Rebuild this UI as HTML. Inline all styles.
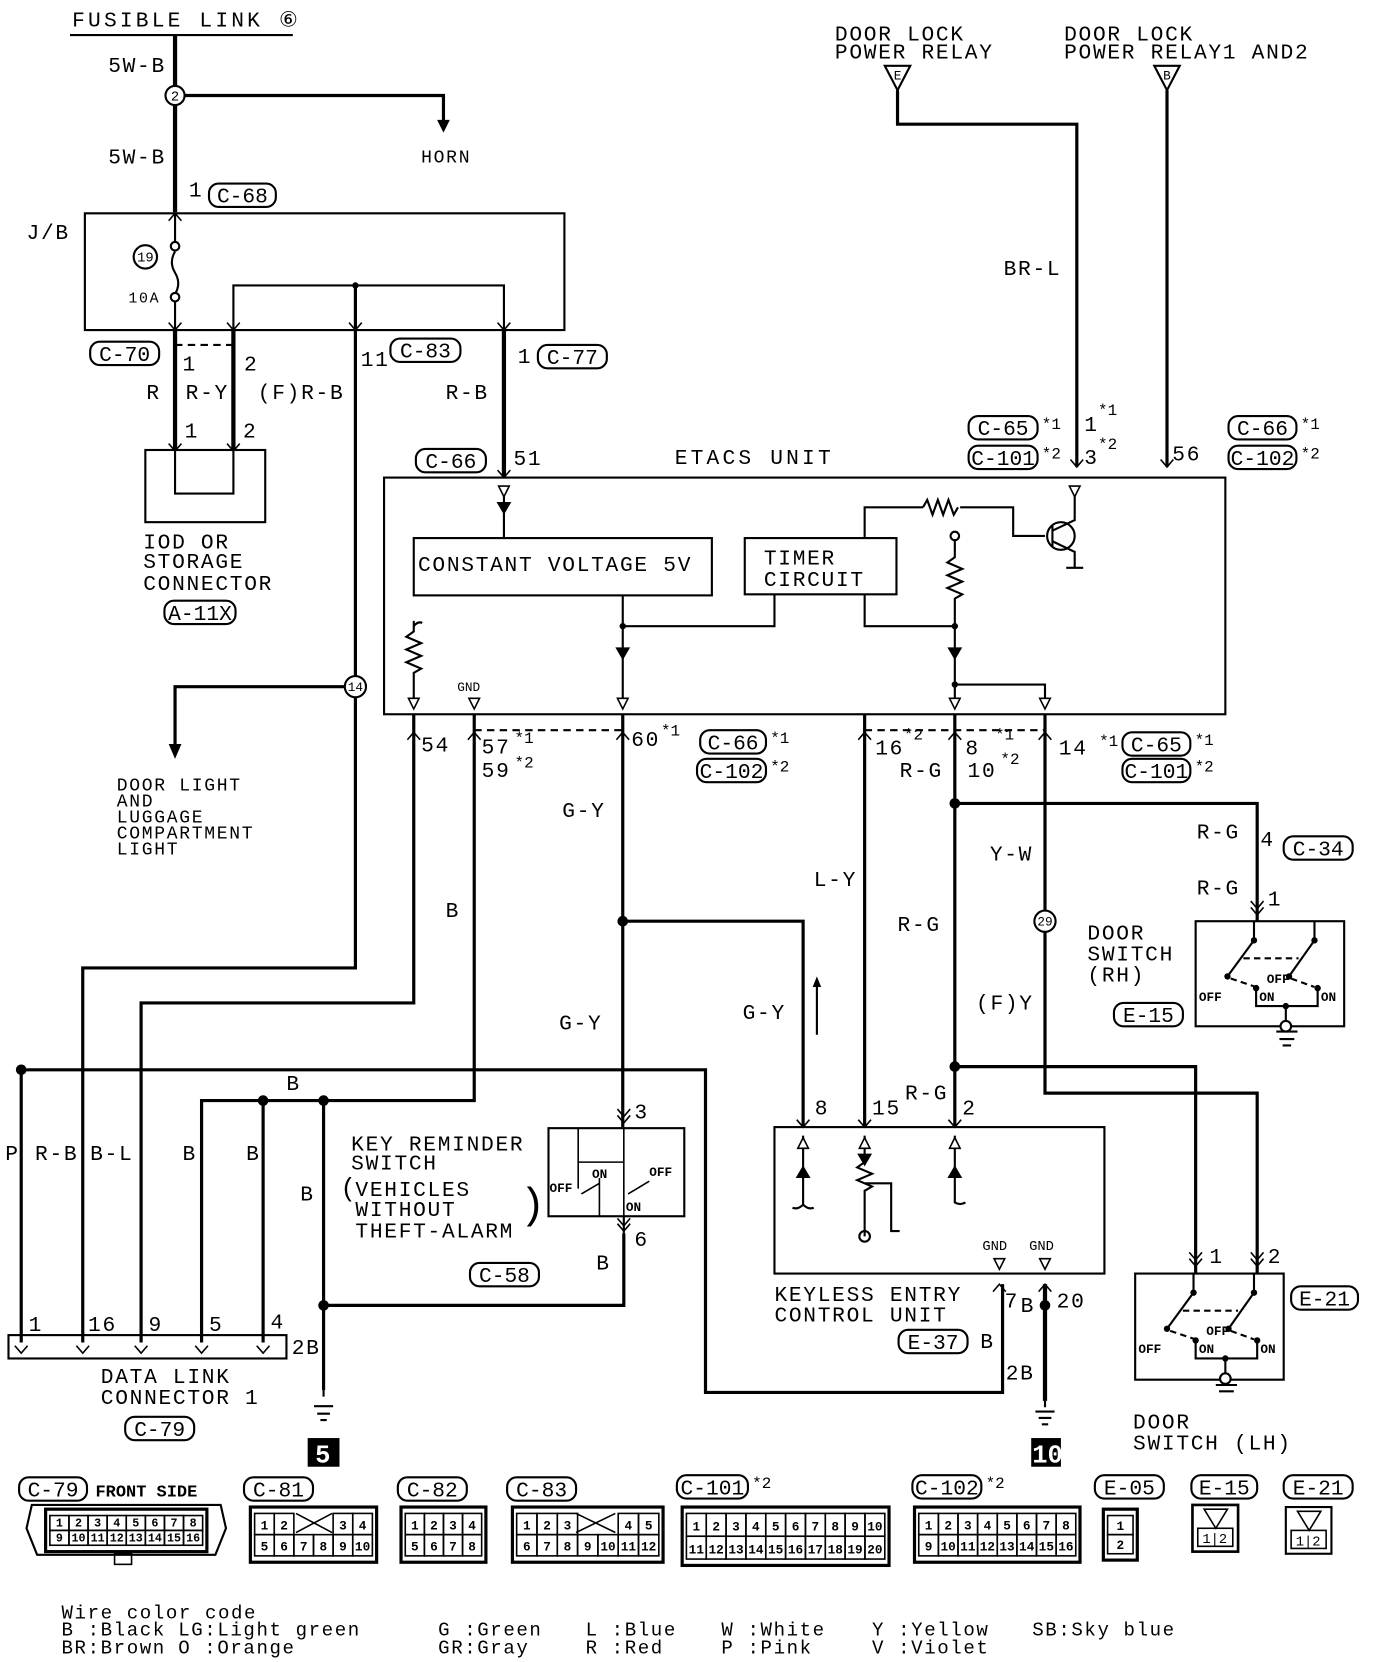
<!DOCTYPE html>
<html><head><meta charset="utf-8"><style>
html,body{margin:0;padding:0;background:#fff;}
svg{display:block;}
text{font-family:"Liberation Mono","DejaVu Sans Mono",monospace;fill:#000;}
.w text{letter-spacing:1.6px;}
.lg text{letter-spacing:1.5px;}
</style></head><body>
<svg id="s" width="1376" height="1662" viewBox="0 0 1297 1566" preserveAspectRatio="none" xmlns="http://www.w3.org/2000/svg">
<g fill="none" stroke="#000" stroke-width="2">
<line x1="66" y1="33" x2="276" y2="33"/>
<path d="M165 33 V200" stroke-width="4"/>
<path d="M165 90 H418 V120" stroke-width="3"/>
<rect x="80" y="201" width="452" height="110"/>
<path d="M165 201 V232 M165 280 V330"/>
<path d="M165 237 q-6 10 0 20 q6 10 0 20"/>
<path d="M220 330 V269 H475 V325"/>
<path d="M335 269 V912 H78 V1265" stroke-width="3"/>
<path d="M165 325 H220" stroke-dasharray="7,5"/>
<path d="M165 311 V425 M220 311 V425" stroke-width="4"/>
<path d="M475 311 V450" stroke-width="4"/>
<rect x="137" y="424" width="113" height="68"/>
<path d="M165 424 V465 H220 V424"/>
<path d="M335 647 H165 V705" stroke-width="3"/>
<path d="M846 85 V117 H1015 V440" stroke-width="3"/>
<path d="M1100 85 V440" stroke-width="3"/>
<rect x="362" y="450" width="793" height="223"/>
<rect x="390" y="507" width="281" height="54"/>
<rect x="702" y="507" width="143" height="53"/>
<path d="M475 458 V507"/>
<path d="M587 561 V660 M730 560 V590 H587"/>
<path d="M815 507 V478 H870 M905 478 H955 V505 H985"/>
<path d="M870 478 l4 -7 l5 14 l5 -14 l5 14 l5 -14 l5 14 l4 -7"/>
<circle cx="1000" cy="505" r="13"/>
<path d="M992 495 V515 M992 500 L1013 490 V462 M992 510 L1013 520 V535 M1005 535 h16"/>
<path d="M900 508 V525 l-7 5 l14 6 l-14 6 l14 6 l-14 6 l14 6 l-7 4 V660 M900 645 H985 V660"/>
<path d="M815 560 V590 H900"/>
<circle cx="900" cy="505" r="4"/>
<path d="M390 585 V595 l-7 5 l14 6 l-14 6 l14 6 l-14 6 l14 6 l-7 4 V660 M390 590 q4 -5 8 -3"/>
<path d="M447 688 H587 M815 688 H985" stroke-dasharray="7,5"/>
<path d="M390 673 V945 H133 V1265" stroke-width="3"/>
<path d="M447 673 V1037 H190 V1265" stroke-width="3"/>
<path d="M248 1037 V1265" stroke-width="3"/>
<path d="M20 1008 H665 V1312 H945 V1210" stroke-width="3"/>
<path d="M20 1008 V1265" stroke-width="3"/>
<path d="M305 1037 V1310 M305 1230 H588 V1162" stroke-width="3"/>
<path d="M587 673 V1062 M587 868 H757 V1062" stroke-width="3"/>
<path d="M815 673 V1062 M900 673 V1062" stroke-width="3"/>
<path d="M900 757 H1185 V868" stroke-width="3"/>
<path d="M985 673 V1030 H1185 V1200 M900 1005 H1127 V1200" stroke-width="3"/>
<path d="M985 1210 V1320" stroke-width="4"/>
<path d="M770 975 V925"/>
<rect x="517" y="1063" width="128" height="83"/>
<path d="M588 1146 V1162"/>
<rect x="730" y="1062" width="311" height="138"/>
<path d="M757 1070 V1135 q-5 5 -10 3 M757 1135 q5 5 10 3"/>
<path d="M815 1070 V1095 l-7 5 l14 6 l-14 6 l14 6 l-7 4 V1165 M815 1115 H840 V1160 h8"/>
<circle cx="815" cy="1165" r="5"/>
<path d="M900 1070 V1133 q5 3 10 0"/>
<rect x="8" y="1258" width="262" height="22"/>
<rect x="1127" y="868" width="140" height="99"/>
<rect x="1070" y="1200" width="140" height="100"/>
<path d="M305 1310 V1316 M296 1325 h18 M299 1332 h12 M302 1338 h6"/>
<path d="M985 1320 V1326 M976 1330 h18 M979 1336 h12 M982 1342 h6"/>
</g>
<g id="dyn"></g>
<g fill="#000">
<circle cx="335" cy="269" r="3"/><circle cx="587" cy="868" r="5"/><circle cx="900" cy="757" r="5"/><circle cx="900" cy="1005" r="5"/>
<circle cx="20" cy="1008" r="5"/><circle cx="248" cy="1037" r="5"/><circle cx="305" cy="1037" r="5"/><circle cx="305" cy="1230" r="5"/><circle cx="985" cy="1230" r="5"/>
<circle cx="587" cy="590" r="3"/><circle cx="900" cy="590" r="3"/><circle cx="900" cy="645" r="3"/>
<path d="M418 125 l-6 -12 h12 z"/><path d="M165 715 l-6 -14 h12 z"/>
<path d="M468 473 h14 l-7 12 z"/><path d="M580 610 h14 l-7 12 z"/><path d="M893 610 h14 l-7 12 z"/>
<path d="M750 1110 h14 l-7 -12 z"/><path d="M808 1087 h14 l-7 12 z"/><path d="M893 1110 h14 l-7 -12 z"/>
<path d="M770 920 l-4 10 h8 z"/>
<rect x="290" y="1355" width="30" height="27"/><rect x="972" y="1355" width="28" height="27"/>
</g>
<g font-size="20" class="w">
<text x="68" y="25" style="letter-spacing:3px">FUSIBLE LINK ⑥</text>
<text x="102" y="68">5W-B</text><text x="102" y="154">5W-B</text>
<text x="397" y="153" font-size="17">HORN</text>
<text x="178" y="185">1</text>
<text x="25" y="225">J/B</text>
<text x="121" y="285" font-size="14">10A</text>
<text x="172" y="349">1</text><text x="230" y="349">2</text><text x="340" y="345">11</text><text x="488" y="342">1</text>
<text x="138" y="376">R</text><text x="175" y="376">R-Y</text><text x="243" y="376">(F)R-B</text><text x="420" y="376">R-B</text>
<text x="174" y="412">1</text><text x="229" y="412">2</text>
<text x="135" y="517">IOD OR</text><text x="135" y="535">STORAGE</text><text x="135" y="556">CONNECTOR</text>
<text x="110" y="745" font-size="17">DOOR LIGHT</text><text x="110" y="760" font-size="17">AND</text><text x="110" y="775" font-size="17">LUGGAGE</text><text x="110" y="790" font-size="17">COMPARTMENT</text><text x="110" y="805" font-size="17">LIGHT</text>
<text x="787" y="38">DOOR LOCK</text><text x="787" y="55">POWER RELAY</text>
<text x="1003" y="38">DOOR LOCK</text><text x="1003" y="55">POWER RELAY1 AND2</text>
<text x="946" y="259">BR-L</text>
<text x="484" y="438">51</text><text x="636" y="437" style="letter-spacing:3px">ETACS UNIT</text>
<text x="1022" y="406">1</text><text x="1022" y="437">3</text><text x="1105" y="434">56</text>
<text x="394" y="538">CONSTANT VOLTAGE 5V</text>
<text x="720" y="532">TIMER</text><text x="720" y="552">CIRCUIT</text>
<text x="431" y="651" font-size="12" style="letter-spacing:0">GND</text>
<text x="397" y="708">54</text><text x="454" y="710">57</text><text x="454" y="732">59</text><text x="595" y="703">60</text>
<text x="825" y="711">16</text><text x="910" y="711">8</text><text x="912" y="732">10</text><text x="998" y="711">14</text>
<text x="848" y="732">R-G</text>
<text x="530" y="770">G-Y</text><text x="420" y="864">B</text><text x="527" y="970">G-Y</text><text x="700" y="960">G-Y</text>
<text x="767" y="835">L-Y</text><text x="846" y="877">R-G</text><text x="933" y="811">Y-W</text><text x="920" y="951">(F)Y</text>
<text x="1128" y="790">R-G</text><text x="1188" y="797">4</text><text x="1128" y="843">R-G</text><text x="1195" y="853">1</text>
<text x="1025" y="885">DOOR</text><text x="1025" y="905">SWITCH</text><text x="1025" y="925">(RH)</text>
<text x="853" y="1036">R-G</text><text x="768" y="1050">8</text><text x="822" y="1050">15</text><text x="907" y="1050">2</text>
<text x="598" y="1054">3</text><text x="598" y="1174">6</text><text x="562" y="1196">B</text>
<text x="331" y="1084">KEY REMINDER</text><text x="331" y="1102">SWITCH</text>
<text x="321" y="1127" font-size="24">(</text><text x="335" y="1127">VEHICLES</text><text x="335" y="1146">WITHOUT</text><text x="335" y="1166">THEFT-ALARM</text><text x="490" y="1147" font-size="40">)</text>
<text x="270" y="1027">B</text><text x="283" y="1131">B</text>
<text x="5" y="1093">P</text><text x="33" y="1093">R-B</text><text x="85" y="1093">B-L</text><text x="172" y="1093">B</text><text x="232" y="1093">B</text>
<text x="27" y="1254">1</text><text x="83" y="1254">16</text><text x="140" y="1254">9</text><text x="197" y="1254">5</text><text x="255" y="1252">4</text><text x="275" y="1276">2B</text>
<text x="95" y="1303">DATA LINK</text><text x="95" y="1323">CONNECTOR 1</text>
<text x="926" y="1178" font-size="13" style="letter-spacing:0">GND</text><text x="970" y="1178" font-size="13" style="letter-spacing:0">GND</text>
<text x="947" y="1232">7</text><text x="962" y="1236">B</text><text x="996" y="1232">20</text>
<text x="730" y="1226">KEYLESS ENTRY</text><text x="730" y="1245">CONTROL UNIT</text>
<text x="924" y="1270">B</text><text x="948" y="1300">2B</text>
<text x="1140" y="1190">1</text><text x="1195" y="1190">2</text>
<text x="1068" y="1346">DOOR</text><text x="1068" y="1366">SWITCH (LH)</text>
<text x="297" y="1378" style="fill:#fff" font-weight="bold" font-size="24">5</text>
<text x="973" y="1378" style="fill:#fff;letter-spacing:0" font-weight="bold" font-size="24">10</text>
<text x="90" y="1410" font-size="16" font-weight="bold" style="letter-spacing:0">FRONT SIDE</text>
</g>
<g font-size="18" class="lg">
<text x="58" y="1525">Wire color code</text>
<text x="58" y="1541">B :Black</text><text x="168" y="1541">LG:Light green</text><text x="413" y="1541">G :Green</text><text x="552" y="1541">L :Blue</text><text x="680" y="1541">W :White</text><text x="822" y="1541">Y :Yellow</text><text x="973" y="1541">SB:Sky blue</text>
<text x="58" y="1558">BR:Brown</text><text x="168" y="1558">O :Orange</text><text x="413" y="1558">GR:Gray</text><text x="552" y="1558">R :Red</text><text x="680" y="1558">P :Pink</text><text x="822" y="1558">V :Violet</text>
</g>
</svg>
<script>
var g=document.getElementById('dyn'),NS='http://www.w3.org/2000/svg';
function el(t,a,txt){var e=document.createElementNS(NS,t);for(var k in a)e.setAttribute(k,a[k]);if(txt!==undefined)e.textContent=txt;g.appendChild(e);return e;}
function lab(x,y,w,t,star){el('rect',{x:x,y:y,width:w,height:22,rx:9,fill:'none',stroke:'#000','stroke-width':2});el('text',{x:x+w/2,y:y+18,'text-anchor':'middle','font-size':20},t);if(star)el('text',{x:x+w+4,y:y+12,'font-size':15},star);}
function circ(x,y,r,t,fs){el('circle',{cx:x,cy:y,r:r,fill:'#fff',stroke:'#000','stroke-width':2});el('text',{x:x,y:y+fs*0.35,'text-anchor':'middle','font-size':fs},t);}
lab(197,173,63,'C-68');lab(85,322,65,'C-70');lab(368,319,66,'C-83');lab(507,325,65,'C-77');lab(155,566,67,'A-11X');
lab(392,423,66,'C-66');lab(913,392,65,'C-65','*1');lab(913,420,65,'C-101','*2');lab(1158,392,64,'C-66','*1');lab(1158,420,64,'C-102','*2');
lab(660,688,62,'C-66','*1');lab(657,715,65,'C-102','*2');lab(1058,690,64,'C-65','*1');lab(1058,715,64,'C-101','*2');
lab(1210,788,65,'C-34');lab(1050,945,65,'E-15');lab(443,1190,65,'C-58');lab(847,1253,65,'E-37');lab(1217,1212,63,'E-21');lab(118,1335,65,'C-79');
[[485,700,'*1'],[485,723,'*2'],[623,693,'*1'],[852,697,'*2'],[938,697,'*1'],[943,720,'*2'],[1036,703,'*1'],[1035,391,'*1'],[1035,423,'*2']].forEach(function(a){el('text',{x:a[0],y:a[1],'font-size':15},a[2]);});
circ(165,90,9,'2',13);circ(137,242,11,'19',13);circ(335,647,10,'14',12);circ(985,868,10,'29',12);
el('circle',{cx:165,cy:232,r:4,fill:'#fff',stroke:'#000','stroke-width':2});el('circle',{cx:165,cy:280,r:4,fill:'#fff',stroke:'#000','stroke-width':2});
[[846,'E'],[1100,'B']].forEach(function(a){el('path',{d:'M'+(a[0]-12)+' 62 h24 l-12 23 z',fill:'none',stroke:'#000','stroke-width':2});el('text',{x:a[0],y:75,'text-anchor':'middle','font-size':12},a[1]);});
function oa(x,y){el('path',{d:'M'+(x-5)+' '+(y-10)+' h10 l-5 10 z',fill:'#fff',stroke:'#000','stroke-width':1.5});}
[[475,468],[1013,468],[390,668],[447,668],[587,668],[900,668],[985,668],[942,1196],[985,1196]].forEach(function(a){oa(a[0],a[1]);});
function ua(x,y){el('path',{d:'M'+(x-5)+' '+(y+10)+' h10 l-5 -10 z',fill:'#fff',stroke:'#000','stroke-width':1.5});}
[[757,1072],[815,1072],[900,1072]].forEach(function(a){ua(a[0],a[1]);});
function v(x,y,up){var d=up?-7:7;el('path',{d:'M'+(x-6)+' '+(y-d)+' L'+x+' '+y+' L'+(x+6)+' '+(y-d),fill:'none',stroke:'#000','stroke-width':1.5});}
[[165,201,1],[165,311],[220,311],[335,311],[475,311],[165,425],[220,425],[475,450],[1015,440],[1100,440],[390,690,1],[447,690,1],[587,690,1],[815,690,1],[900,690,1],[985,690,1],[757,1062],[815,1062],[900,1062],[942,1210,1],[985,1210,1],[20,1275],[78,1275],[133,1275],[190,1275],[248,1275]].forEach(function(a){v(a[0],a[1],a[2]);});
[[588,1058],[1185,862],[1127,1193],[1185,1193]].forEach(function(a){v(a[0],a[1]);v(a[0],a[1]-6);});
v(588,1160);v(588,1155);
function ds(x,y){
el('path',{d:'M'+(x+55)+' '+y+' V'+(y+18)+' L'+(x+30)+' '+(y+52)+' M'+(x+112)+' '+y+' V'+(y+18)+' L'+(x+88)+' '+(y+52)+' M'+(x+57)+' '+(y+64)+' V'+(y+80)+' H'+(x+115)+' V'+(y+64)+' M'+(x+85)+' '+(y+80)+' V'+(y+95),fill:'none',stroke:'#000','stroke-width':2});
el('path',{d:'M'+(x+45)+' '+(y+35)+' H'+(x+97)+' M'+(x+33)+' '+(y+54)+' L'+(x+57)+' '+(y+62)+' M'+(x+90)+' '+(y+54)+' L'+(x+112)+' '+(y+62),fill:'none',stroke:'#000','stroke-width':2,'stroke-dasharray':'6,4'});
[[x+55,y+18],[x+112,y+18],[x+30,y+52],[x+88,y+52],[x+57,y+63],[x+115,y+63],[x+85,y+80]].forEach(function(p){el('circle',{cx:p[0],cy:p[1],r:3,fill:'#000'});});
el('circle',{cx:x+85,cy:y+99,r:5,fill:'#fff',stroke:'#000','stroke-width':2});
el('text',{x:x+3,y:y+75,'font-size':12,'font-weight':'bold'},'OFF');el('text',{x:x+67,y:y+58,'font-size':12,'font-weight':'bold'},'OFF');
el('text',{x:x+60,y:y+75,'font-size':12,'font-weight':'bold'},'ON');el('text',{x:x+118,y:y+75,'font-size':12,'font-weight':'bold'},'ON');}
ds(1127,868);ds(1070,1200);
el('path',{d:'M1203 972 h20 M1206 979 h14 M1209 985 h8 M1146 1305 h20 M1149 1311 h14',fill:'none',stroke:'#000','stroke-width':2});
el('path',{d:'M545 1063 V1120 M588 1063 V1146 M545 1095 H588 M548 1125 L565 1115 M592 1125 L612 1113 M565 1110 V1146',fill:'none',stroke:'#000','stroke-width':1.5});
el('text',{x:518,y:1123,'font-size':12,'font-weight':'bold'},'OFF');el('text',{x:558,y:1110,'font-size':12,'font-weight':'bold'},'ON');el('text',{x:612,y:1108,'font-size':12,'font-weight':'bold'},'OFF');el('text',{x:590,y:1141,'font-size':12,'font-weight':'bold'},'ON');
function grid(x,y,w,h,rows,cols,labels,fs){el('rect',{x:x,y:y,width:w,height:h,fill:'none',stroke:'#000','stroke-width':3});var cw=(w-8)/cols,ch=(h-12)/rows,i=0;for(var r=0;r<rows;r++)for(var c=0;c<cols;c++){var t=labels[i++];if(t==='')continue;var cx=x+4+c*cw,cy=y+6+r*ch;el('rect',{x:cx,y:cy,width:cw,height:ch,fill:'none',stroke:'#000','stroke-width':1.5});el('text',{x:cx+cw/2,y:cy+ch*0.75,'text-anchor':'middle','font-size':fs||13,'font-weight':'bold'},t);}}
function rng(a,b){var r=[];for(var i=a;i<=b;i++)r.push(''+i);return r;}
lab(18,1392,64,'C-79');lab(230,1392,65,'C-81');lab(375,1392,65,'C-82');lab(478,1392,65,'C-83');lab(638,1390,67,'C-101','*2');lab(860,1390,65,'C-102','*2');lab(1032,1390,65,'E-05');lab(1123,1390,62,'E-15');lab(1210,1390,65,'E-21');
el('path',{d:'M30 1418 H208 L213 1440 L203 1465 H35 L25 1440 Z',fill:'none',stroke:'#000','stroke-width':2});
grid(43,1422,152,40,2,8,rng(1,16),11);el('rect',{x:108,y:1464,width:16,height:10,fill:'none',stroke:'#000','stroke-width':1.5});
grid(236,1420,119,52,2,6,['1','2','','','3','4','5','6','7','8','9','10'],12);el('path',{d:'M279 1426 L313 1444 M313 1426 L279 1444',stroke:'#000','stroke-width':1.5});
grid(378,1420,80,52,2,4,rng(1,8),12);
grid(483,1420,142,52,2,7,['1','2','3','','','4','5','6','7','8','9','10','11','12'],12);el('path',{d:'M543 1426 L580 1444 M580 1426 L543 1444',stroke:'#000','stroke-width':1.5});
grid(643,1420,195,55,2,10,rng(1,20),12);
grid(862,1420,156,52,2,8,rng(1,16),12);
grid(1040,1422,32,48,2,1,['1','2'],12);
el('rect',{x:1124,y:1418,width:43,height:44,fill:'none',stroke:'#000','stroke-width':2.5});el('path',{d:'M1135 1422 h22 l-11 18 z',fill:'none',stroke:'#000','stroke-width':1.5});el('rect',{x:1129,y:1440,width:33,height:17,fill:'none',stroke:'#000','stroke-width':1.5});el('text',{x:1145,y:1454,'text-anchor':'middle','font-size':13},'1|2');
el('rect',{x:1212,y:1420,width:43,height:44,fill:'none',stroke:'#000','stroke-width':2});el('path',{d:'M1223 1424 h22 l-11 18 z',fill:'none',stroke:'#000','stroke-width':1.5});el('rect',{x:1217,y:1442,width:33,height:17,fill:'none',stroke:'#000','stroke-width':1.5});el('text',{x:1233,y:1456,'text-anchor':'middle','font-size':13},'1|2');
</script>
</body></html>
